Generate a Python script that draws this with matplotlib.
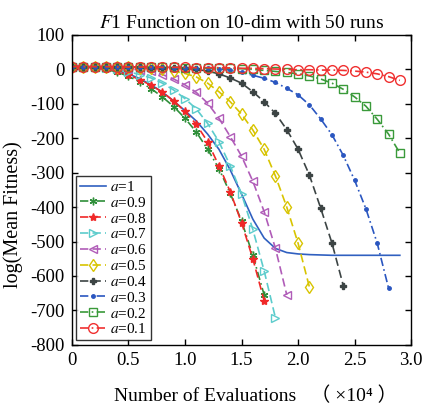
import numpy as np
import matplotlib
matplotlib.use("Agg")
import matplotlib.pyplot as plt
from matplotlib.ticker import FuncFormatter

plt.rcParams['font.family'] = ['Liberation Serif', 'Noto Sans CJK SC', 'DejaVu Sans']
plt.rcParams['mathtext.fontset'] = 'stix'

# x in units of 1e4 evaluations, values of log(Mean Fitness)
x_a10 = [0.0, 0.1, 0.2, 0.3, 0.4, 0.5, 0.6, 0.7, 0.8, 0.9, 1.0, 1.1, 1.2, 1.3, 1.4, 1.5, 1.6, 1.7, 1.8, 1.9,
         2.0, 2.1, 2.2, 2.3, 2.4, 2.5, 2.6, 2.7, 2.8, 2.9]
y_a10 = [8, 7, 5, 2, -4, -13, -27, -45, -66, -92, -120, -150, -188, -232, -292, -362, -435, -490, -520, -532,
         -536, -538, -539, -540, -540, -540, -540, -540, -540, -540]

y_a09 = [8, 7, 4, 0, -8, -20, -36, -56, -80, -108, -142, -182, -232, -288, -360, -440, -540, -655]
y_a08 = [8, 7, 5, 1, -6, -16, -30, -46, -66, -92, -122, -160, -210, -280, -355, -445, -550, -672]
y_a07 = [8, 7, 6, 4, 0, -7, -15, -25, -40, -60, -85, -115, -157, -210, -280, -362, -465, -585, -722]
y_a06 = [8, 8, 7, 6, 4, 2, -2, -6, -15, -28, -45, -67, -98, -142, -195, -252, -325, -413, -520, -655]
y_a05 = [8, 8, 7, 7, 6, 6, 5, 3, 0, -5, -12, -22, -40, -65, -94, -130, -176, -232, -310, -400, -505, -632]
y_a04 = [8, 8, 7, 7, 7, 6, 6, 5, 5, 4, 3, 0, -5, -13, -25, -40, -65, -94, -128, -175, -232, -307, -403,
         -505, -628]
y_a03 = [8, 8, 7, 7, 7, 7, 6, 6, 6, 5, 5, 4, 3, 1, -2, -9, -17, -26, -38, -55, -74, -103, -144, -190, -250,
         -322, -405, -505, -635]
y_a02 = [8, 8, 8, 7, 7, 7, 7, 6, 6, 6, 5, 5, 4, 4, 3, 2, 0, -3, -6, -9, -13, -19, -28, -40, -58, -80, -107,
         -145, -188, -243]
y_a01 = [8, 8, 8, 8, 7, 7, 7, 7, 6, 6, 6, 5, 5, 5, 4, 3, 3, 2, 1, 0, -1, -1, -2, -2, -3, -5, -8, -13, -21,
         -32]

series = [
    ('$a$=0.9', y_a09, '#2f8f3a', (0, (5, 2, 1, 2)), (6, 2, 0), True, 5.5),
    ('$a$=0.8', y_a08, '#f02828', (0, (5, 2.5)), '*', True, 6),
    ('$a$=0.7', y_a07, '#5ccccc', (0, (5, 2.5)), '>', False, 6),
    ('$a$=0.6', y_a06, '#b05cb8', (0, (5, 2.5)), '<', False, 6),
    ('$a$=0.5', y_a05, '#d8c400', (0, (5, 2.5)), 'd', False, 6),
    ('$a$=0.4', y_a04, '#3c4444', (0, (5, 2.5)), 'P', True, 4.5),
    ('$a$=0.3', y_a03, '#2a56c0', (0, (5, 2, 1, 2)), '.', True, 5),
    ('$a$=0.2', y_a02, '#3a9a3a', (0, (5, 2, 1, 2)), 's', False, 5.5),
    ('$a$=0.1', y_a01, '#f03030', (0, (5, 2, 1, 2)), 'o', False, 7),
]

fig = plt.figure(figsize=(4.23, 4.11), dpi=100)
ax = fig.add_axes([0.170, 0.161, 0.802, 0.754])

ax.plot(x_a10, y_a10, color='#3060c0', lw=1.2, label='$a$=1')
for lab, ys, col, ls, mk, filled, ms in series:
    xs = np.round(np.arange(len(ys)) * 0.1, 2)
    ax.plot(xs, ys, color=col, ls=ls, lw=1.2, marker=mk, ms=ms,
            markerfacecolor=(col if filled else 'none'), markeredgecolor=col,
            markeredgewidth=1.0, label=lab)

ax.set_xlim(0, 3.0)
ax.set_ylim(-800, 100)
ax.set_xticks([0, 0.5, 1.0, 1.5, 2.0, 2.5, 3.0])
ax.set_xticklabels(['0', '0.5', '1.0', '1.5', '2.0', '2.5', '3.0'])
ax.set_yticks(np.arange(-800, 101, 100))
ax.yaxis.set_major_formatter(FuncFormatter(lambda v, p: f'{int(v)}'.replace('\u2212', '-')))
ax.tick_params(direction='in', top=True, right=True, labelsize=13.5, length=4, width=1, pad=5)
for s in ax.spines.values():
    s.set_linewidth(1.0)

ax.set_title('$F$1 Function on 10-dim with 50 runs', fontsize=14, pad=5)
ax.set_ylabel('log(Mean Fitness)', fontsize=14.5, labelpad=1)
ax.yaxis.set_label_coords(-0.145, 0.42)
ax.set_xlabel('Number of Evaluations   （ ×10\u2074 ）', fontsize=14, labelpad=12)
ax.xaxis.set_label_coords(0.54, -0.135)

leg = ax.legend(loc='lower left', bbox_to_anchor=(0.0, 0.0), fontsize=11, frameon=True,
                fancybox=False, edgecolor='black', handlelength=1.7, borderpad=0.25,
                labelspacing=0.12, handletextpad=0.25, borderaxespad=0.3)
leg.get_frame().set_linewidth(1.0)

fig.savefig('out.png', dpi=100)
